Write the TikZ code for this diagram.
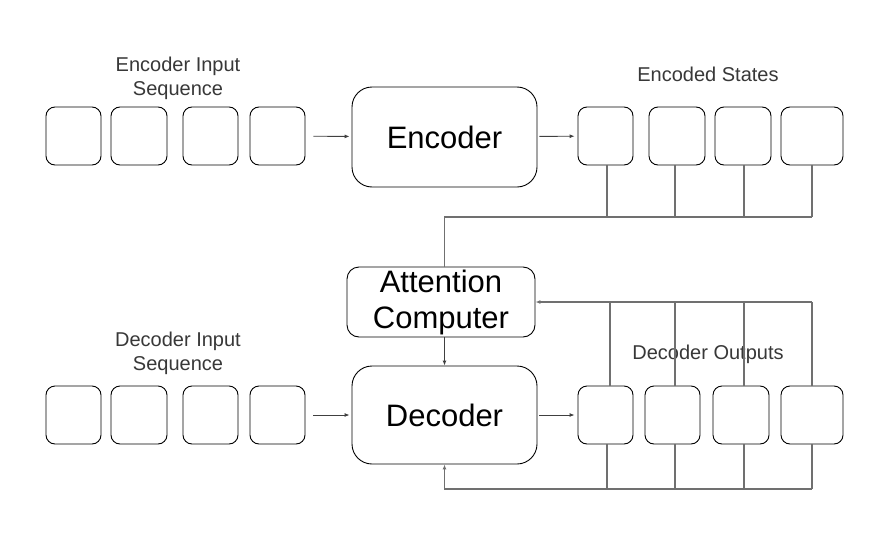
\documentclass[tikz,border=0pt]{standalone}
\usepackage{fontspec}
\setmainfont{Liberation Sans}
\usetikzlibrary{arrows.meta}
\definecolor{lbl}{HTML}{383838}
\definecolor{wire}{HTML}{707070}
\begin{document}
\begin{tikzpicture}[x=1pt,y=-1pt,
  cell/.style={draw=black, line width=0.9pt, rounded corners=9pt, minimum height=58pt, inner sep=0pt},
  bigbox/.style={draw=black, line width=0.9pt, rounded corners=20pt, minimum width=185pt, inner sep=0pt, font=\fontsize{31}{36}\selectfont},
  lbltext/.style={text=lbl, align=center, font=\fontsize{20}{24}\selectfont},
  conn/.style={draw=wire, line width=1.1pt},
  arr/.style={draw=black!75, line width=0.9pt, -{Latex[length=5pt,width=4pt]}}]
\useasboundingbox (0,0) rectangle (878,546);
\fill[white] (0,0) rectangle (878,546);

% encoder row
\node[cell, minimum width=55pt] (ei1) at (73.5,136) {};
\node[cell, minimum width=56pt] (ei2) at (139,136) {};
\node[cell, minimum width=55pt] (ei3) at (210.5,136) {};
\node[cell, minimum width=55pt] (ei4) at (277.5,136) {};
\node[bigbox, minimum height=100pt] (enc) at (444.5,137) {Encoder};
\node[cell, minimum width=55pt] (es1) at (605.5,136) {};
\node[cell, minimum width=56pt] (es2) at (677,136) {};
\node[cell, minimum width=56pt] (es3) at (743,136) {};
\node[cell, minimum width=62pt] (es4) at (812,136) {};

% attention
\node[draw=black, line width=0.9pt, rounded corners=12pt, minimum width=188pt, minimum height=70pt, inner sep=0pt, align=center, font=\fontsize{31}{36}\selectfont] (att) at (441,302) {Attention\\Computer};

% decoder row
\node[cell, minimum width=55pt] (di1) at (73.5,415) {};
\node[cell, minimum width=56pt] (di2) at (139,415) {};
\node[cell, minimum width=55pt] (di3) at (210.5,415) {};
\node[cell, minimum width=55pt] (di4) at (277.5,415) {};
\node[bigbox, minimum height=98pt] (dec) at (444.5,415) {Decoder};
\node[cell, minimum width=55pt] (do1) at (605.5,415) {};
\node[cell, minimum width=55pt] (do2) at (672.5,415) {};
\node[cell, minimum width=56pt] (do3) at (741,415) {};
\node[cell, minimum width=62pt] (do4) at (812,415) {};

% labels
\node[lbltext] (l1) at (178,78) {Encoder Input\\Sequence};
\node[lbltext] (l2) at (708,74) {Encoded States};
\node[lbltext] (l3) at (178,353) {Decoder Input\\Sequence};
\node[lbltext] (l4) at (708,354) {Decoder Outputs};

% horizontal arrows
\draw[arr, shorten <=8pt, shorten >=2pt] (ei4) -- (enc);
\draw[arr, shorten <=2pt, shorten >=3pt] (enc) -- (es1);
\draw[arr, shorten <=8pt, shorten >=2pt] (di4) -- (dec);
\draw[arr, shorten <=2pt, shorten >=3pt] (dec) -- (do1);

% encoded states bus
\coordinate (bus) at (812,217);
\foreach \n/\s in {es1/1.5,es2/-2,es3/1,es4/0}
  \draw[conn] ([xshift=\s pt]\n.south) -- ([xshift=\s pt]\n.south |- bus);
\draw[conn] (att.north -| dec.north) |- (bus);
\draw[arr] (att.south -| dec.north) -- (dec.north);

% decoder outputs feedback
\coordinate (fbt) at (812,302);
\coordinate (fbb) at (812,489);
\foreach \n/\s/\t in {do1/4.5/1.5,do2/2.5/2.5,do3/3/3,do4/0/0} {
  \draw[conn] ([xshift=\s pt]\n.north) -- ([xshift=\s pt]\n.north |- fbt);
  \draw[conn] ([xshift=\t pt]\n.south) -- ([xshift=\t pt]\n.south |- fbb);
}
\draw[conn, -{Latex[length=5pt,width=4pt]}] (fbt) -- (att.east |- fbt);
\draw[conn, -{Latex[length=5pt,width=4pt]}] (fbb) -| (dec.south);
\end{tikzpicture}
\end{document}
